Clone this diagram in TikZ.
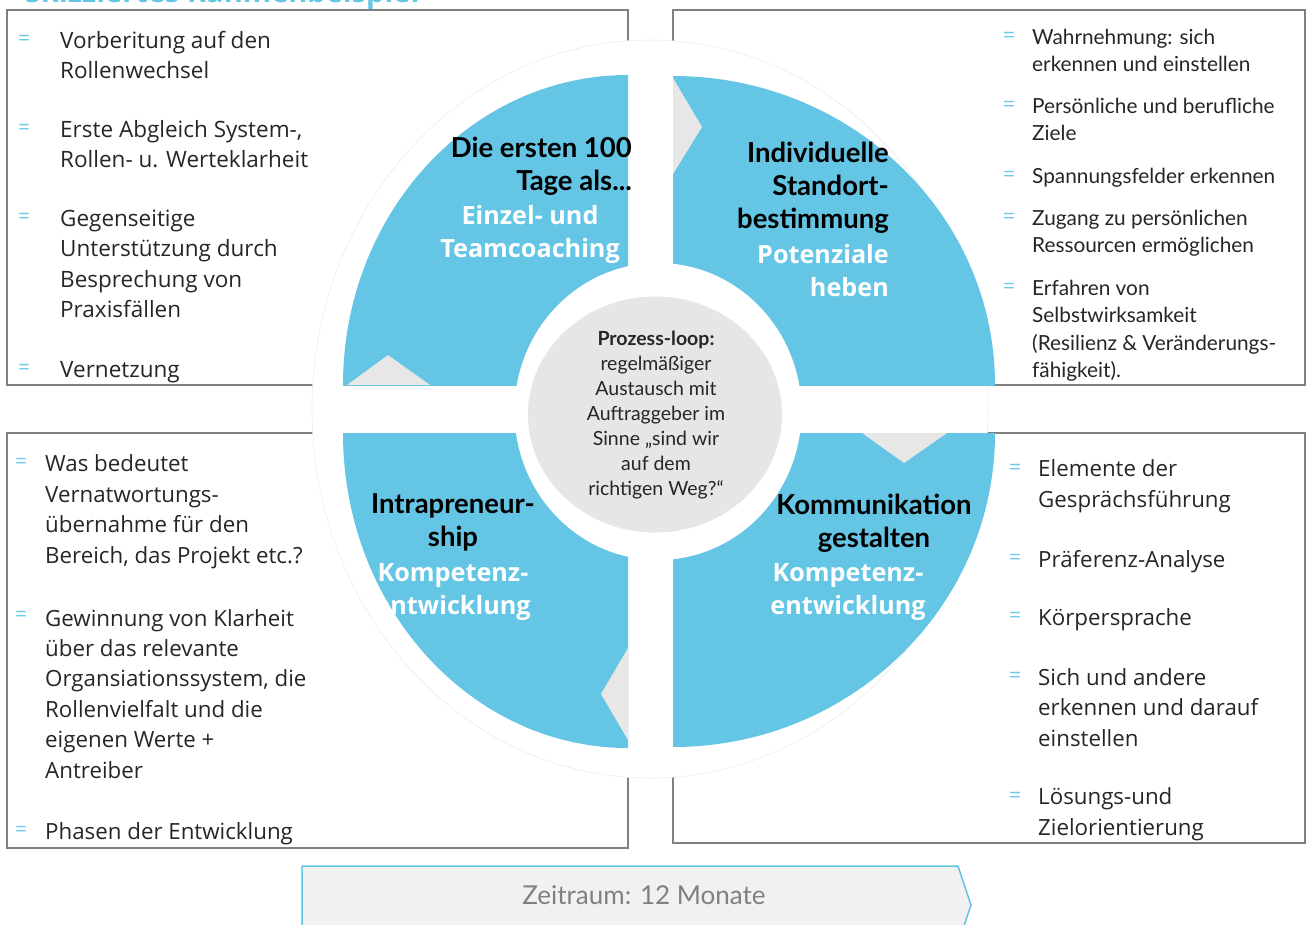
\documentclass[tikz,border=0pt]{standalone}
\usepackage{fontspec}
\usetikzlibrary{shapes.geometric}
\setmainfont{Open Sans}
\newfontfamily\latof{Lato}
\newfontfamily\osf{Open Sans}
\definecolor{qblue}{HTML}{64C5E5}
\definecolor{bulblue}{HTML}{6CCAEA}
\definecolor{trigray}{HTML}{E7E7E7}
\definecolor{cgray}{HTML}{E6E6E6}
\definecolor{bordergray}{HTML}{808080}
\definecolor{arrowfill}{HTML}{F1F1F1}
\definecolor{arrowblue}{HTML}{62C4E4}
\definecolor{txt}{HTML}{262626}
\tikzset{
  panel/.style={draw=bordergray, line width=1.6pt, fill=white},
  quad/.style={fill=qblue},
  tri/.style={fill=trigray},
  bul/.style={text=bulblue, font=\osf\fontsize{21}{21}\selectfont, inner sep=0pt, anchor=west},
  ltxt/.style={text=txt, font=\osf\fontsize{22.5}{30.6}\selectfont, align=left, anchor=base west, inner sep=0pt},
  btxt/.style={text=txt, font=\osf\fontsize{22.3}{30.4}\selectfont, align=left, anchor=base west, inner sep=0pt},
  rtxt/.style={text=txt, font=\latof\fontsize{20.8}{27.6}\selectfont, align=left, anchor=base west, inner sep=0pt},
  headk/.style={text=black, font=\latof\bfseries\fontsize{27.5}{33}\selectfont, inner sep=0pt},
  headw/.style={text=white, font=\osf\bfseries\fontsize{25.2}{33}\selectfont, inner sep=0pt},
}
\begin{document}
\begin{tikzpicture}[x=1pt,y=-1pt]
\useasboundingbox (0,0) rectangle (1312,924);
% title (cut off at the top)
\begin{scope}
\clip (0,0) rectangle (1312,924);
\node[anchor=base west, inner sep=0pt, text=qblue, font=\osf\bfseries\fontsize{29}{29}\selectfont] (title) at (25,2.5) {Skizziertes Rahmenbeispiel};
\end{scope}
% panels
\draw[panel] (7,10) rectangle (628,385);
\draw[panel] (673,10) rectangle (1305,385);
\draw[panel] (7,433) rectangle (628,848);
\draw[panel] (673,433) rectangle (1305,843);
% white disc behind the quadrants
\fill[white, draw=black!7, line width=0.6pt] (650,409) ellipse [x radius=338, y radius=369];
% quadrants
\begin{scope}
\clip (628,385) rectangle (300,40);
\fill[quad] (628,385) ellipse [x radius=285, y radius=310];
\end{scope}
\begin{scope}
\clip (673,385) rectangle (1000,40);
\fill[quad] (673,385) ellipse [x radius=322, y radius=309];
\end{scope}
\begin{scope}
\clip (628,433) rectangle (300,760);
\fill[quad] (628,433) ellipse [x radius=285, y radius=315];
\end{scope}
\begin{scope}
\clip (673,433) rectangle (1000,760);
\fill[quad] (673,433) ellipse [x radius=322, y radius=314];
\end{scope}
% inner white ring and grey centre
\fill[white] (658,411.5) ellipse [x radius=143.5, y radius=148.5];
\node[ellipse, fill=cgray, minimum width=254pt, minimum height=236pt, inner sep=0pt] (hub) at (655,414.5) {};
% triangles
\fill[tri] (347,385) -- (388,355) -- (430,385) -- cycle;
\fill[tri] (673,78) -- (702,127) -- (673,174) -- cycle;
\fill[tri] (862,433) -- (904,463) -- (947,433) -- cycle;
\fill[tri] (628,648) -- (601,694) -- (628,740) -- cycle;
% quadrant headings
\node[headk, align=right, anchor=base east] (h1) at (632,190) {Die ersten 100\\Tage als...};
\node[headw, align=center, anchor=base] (s1) at (530,257) {Einzel- und\\Teamcoaching};
\node[headk, align=right, anchor=base east] (h2) at (889,228) {Individuelle\\Standort-\\bestimmung};
\node[headw, align=right, anchor=base east] (s2) at (889,296) {Potenziale\\heben};
\node[headk, align=center, anchor=base] (h3) at (453,546) {Intrapreneur-\\ship};
\node[headw, align=center, anchor=base] (s3) at (453,614) {Kompetenz-\\entwicklung};
\node[headk, align=center, anchor=base] (h4) at (874,547) {Kommunikation\\gestalten};
\node[headw, align=center, anchor=base] (s4) at (848,614) {Kompetenz-\\entwicklung};
% centre text
\node[align=center, anchor=base, inner sep=0pt, text=txt, font=\latof\fontsize{19.5}{25}\selectfont] (ctext) at (656,495)
  {{\bfseries Prozess-loop:}\\regelmäßiger\\Austausch mit\\Auftraggeber im\\Sinne „sind wir\\auf dem\\richtigen Weg?“};
% top-left panel
\node[bul] (b11) at (18,40) {=};
\node[ltxt] (l11) at (60,78.6) {Vorberitung auf den\\Rollenwechsel};
\node[bul] (b12) at (18,129) {=};
\node[ltxt] (l12) at (60,167.6) {Erste Abgleich System-,\\Rollen- u. Werteklarheit};
\node[bul] (b13) at (18,218) {=};
\node[ltxt] (l13) at (60,317.8) {Gegenseitige\\Unterstützung durch\\Besprechung von\\Praxisfällen};
\node[bul] (b14) at (18,369) {=};
\node[ltxt] (l14) at (60,377) {Vernetzung};
% top-right panel
\node[bul] (b21) at (1003,37) {=};
\node[rtxt] (r21) at (1032,71.6) {Wahrnehmung: sich\\erkennen und einstellen};
\node[bul] (b22) at (1003,106) {=};
\node[rtxt] (r22) at (1032,140.6) {Persönliche und berufliche\\Ziele};
\node[bul] (b23) at (1003,176) {=};
\node[rtxt] (r23) at (1032,183) {Spannungsfelder erkennen};
\node[bul] (b24) at (1003,218) {=};
\node[rtxt] (r24) at (1032,252.6) {Zugang zu persönlichen\\Ressourcen ermöglichen};
\node[bul] (b25) at (1003,288) {=};
\node[rtxt] (r25) at (1032,377.8) {Erfahren von\\Selbstwirksamkeit\\(Resilienz \& Veränderungs-\\fähigkeit).};
% bottom-left panel
\node[bul] (b31) at (15,463) {=};
\node[btxt] (l31) at (45,563) {Was bedeutet\\Vernatwortungs-\\übernahme für den\\Bereich, das Projekt etc.?};
\node[bul] (b32) at (15,616) {=};
\node[btxt] (l32) at (45,778) {Gewinnung von Klarheit\\über das relevante\\Organsiationssystem, die\\Rollenvielfalt und die\\eigenen Werte +\\Antreiber};
\node[bul] (b33) at (15,831) {=};
\node[btxt] (l33) at (45,839) {Phasen der Entwicklung};
% bottom-right panel
\node[bul] (b41) at (1009,469) {=};
\node[btxt] (r41) at (1038,507) {Elemente der\\Gesprächsführung};
\node[bul] (b42) at (1009,559) {=};
\node[btxt] (r42) at (1038,567) {Präferenz-Analyse};
\node[bul] (b43) at (1009,617) {=};
\node[btxt] (r43) at (1038,625) {Körpersprache};
\node[bul] (b44) at (1009,677) {=};
\node[btxt] (r44) at (1038,746) {Sich und andere\\erkennen und darauf\\einstellen};
\node[bul] (b45) at (1009,797) {=};
\node[btxt] (r45) at (1038,835) {Lösungs-und\\Zielorientierung};
% time arrow
\draw[fill=arrowfill, draw=arrowblue, line width=1.5pt] (302,866) -- (958,866) -- (971,905) -- (958,944) -- (302,944) -- cycle;
\node[anchor=base, inner sep=0pt, text=black!50, font=\latof\fontsize{26}{26}\selectfont] (zeit) at (644,904) {Zeitraum: 12 Monate};
\end{tikzpicture}
\end{document}
